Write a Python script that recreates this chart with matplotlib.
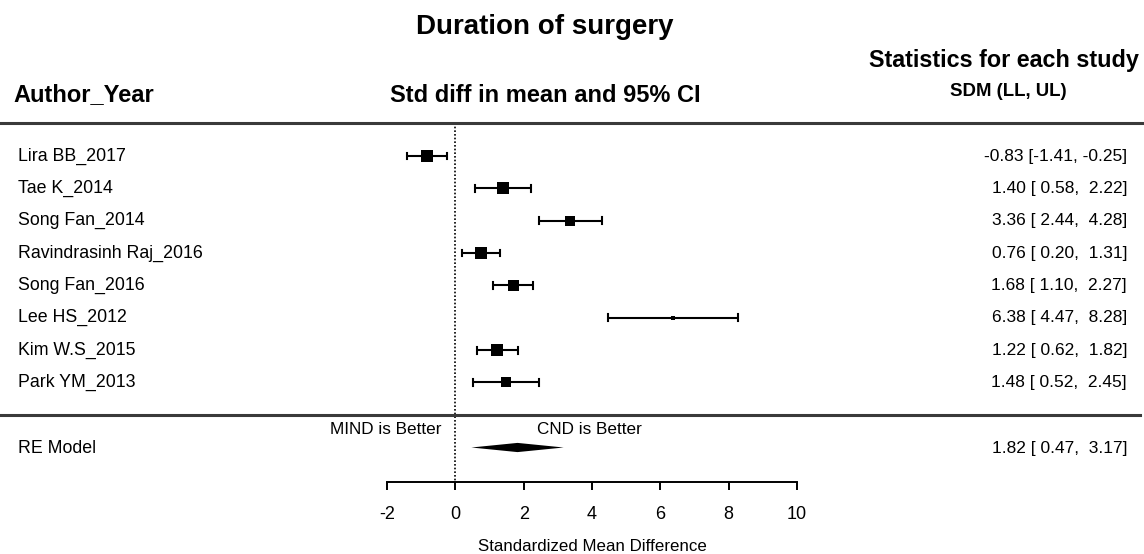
import matplotlib
matplotlib.use("Agg")
import matplotlib.pyplot as plt
from matplotlib.lines import Line2D
from matplotlib.patches import Polygon

plt.rcParams['font.family'] = ['Liberation Sans', 'DejaVu Sans']

# Study data
studies = ["Lira BB_2017", "Tae K_2014", "Song Fan_2014", "Ravindrasinh Raj_2016",
           "Song Fan_2016", "Lee HS_2012", "Kim W.S_2015", "Park YM_2013"]
smd = [-0.83, 1.40, 3.36, 0.76, 1.68, 6.38, 1.22, 1.48]
lower = [-1.41, 0.58, 2.44, 0.20, 1.10, 4.47, 0.62, 0.52]
upper = [-0.25, 2.22, 4.28, 1.31, 2.27, 8.28, 1.82, 2.45]
# relative study weights (square side, pixels)
weights = [12.7, 11.3, 10.0, 12.7, 11.0, 3.6, 12.3, 10.0]

pooled_label = "RE Model"
pooled_smd, pooled_lower, pooled_upper = 1.82, 0.47, 3.17

xticks = [-2, 0, 2, 4, 6, 8, 10]

W, H = 1144, 554
fig = plt.figure(figsize=(W / 100, H / 100), dpi=100)


def fx(px):
    return px / W


def fy(py):
    return 1 - py / H


# plot region: x from -2..10, y in pixel rows
top_px, axis_px = 123, 482
ax = fig.add_axes([fx(387), fy(axis_px), fx(797 - 387), (axis_px - top_px) / H])
ax.set_xlim(-2, 10)
ax.set_ylim(axis_px, top_px)
for s in ["top", "right", "left"]:
    ax.spines[s].set_visible(False)
ax.spines["bottom"].set_linewidth(1.4)
ax.set_yticks([])
ax.set_xticks(xticks)
ax.set_xticklabels([str(t) for t in xticks], fontsize=13)
ax.tick_params(axis="x", direction="out", length=6, width=1.4, pad=11)
ax.set_xlabel("Standardized Mean Difference", fontsize=12.2, labelpad=12)
ax.patch.set_alpha(0)

# null line
ax.plot([0, 0], [top_px, axis_px], color="black", lw=1.2, ls=(0, (1, 1.2)), clip_on=False)

row0, step = 156, 32.35
row_px = [row0 + i * step for i in range(len(studies))]
cap = 3.4

for y, m, lo, hi, w in zip(row_px, smd, lower, upper, weights):
    ax.plot([lo, hi], [y, y], color="black", lw=1.5, solid_capstyle="butt")
    ax.plot([lo, lo], [y - cap, y + cap], color="black", lw=1.5)
    ax.plot([hi, hi], [y - cap, y + cap], color="black", lw=1.5)
    ax.plot([m], [y], marker="s", ms=w * 0.72, color="black", mec="black", mew=0)

pooled_y = 447.5
dh = 4.6
ax.add_patch(Polygon([[pooled_lower, pooled_y], [pooled_smd, pooled_y - dh],
                      [pooled_upper, pooled_y], [pooled_smd, pooled_y + dh]],
                     closed=True, color="black", lw=0))

# horizontal rules
fig.add_artist(Line2D([0, 1], [fy(123), fy(123)], color="#3a3a3a", lw=2.2))
fig.add_artist(Line2D([0, fx(1140)], [fy(415), fy(415)], color="#3a3a3a", lw=2.2))

# headers
fig.text(fx(545), fy(27), "Duration of surgery", ha="center", va="center",
         fontsize=20, fontweight="bold")
fig.text(fx(1139), fy(61), "Statistics for each study", ha="right", va="center",
         fontsize=16.8, fontweight="bold")
fig.text(fx(13), fy(95), "Author_Year", ha="left", va="center",
         fontsize=17, fontweight="bold")
fig.text(fx(545), fy(95), "Std diff in mean and 95% CI", ha="center", va="center",
         fontsize=17, fontweight="bold")
fig.text(fx(1008), fy(91), "SDM (LL, UL)", ha="center", va="center",
         fontsize=13.4, fontweight="bold")

# study labels and statistics
for y, name, m, lo, hi in zip(row_px, studies, smd, lower, upper):
    fig.text(fx(18), fy(y), name, ha="left", va="center", fontsize=12.8)
    stat = f"{m:.2f} [{lo:5.2f}, {hi:5.2f}]"
    fig.text(fx(1127), fy(y), stat, ha="right", va="center", fontsize=12.5)

fig.text(fx(18), fy(pooled_y + 1), pooled_label, ha="left", va="center", fontsize=12.8)
fig.text(fx(1127), fy(pooled_y + 1),
         f"{pooled_smd:.2f} [{pooled_lower:5.2f}, {pooled_upper:5.2f}]",
         ha="right", va="center", fontsize=12.5)

fig.text(fx(441), fy(429), "MIND is Better", ha="right", va="center", fontsize=12.3)
fig.text(fx(537), fy(429), "CND is Better", ha="left", va="center", fontsize=12.3)

fig.savefig("out.png", dpi=100, facecolor="white")
